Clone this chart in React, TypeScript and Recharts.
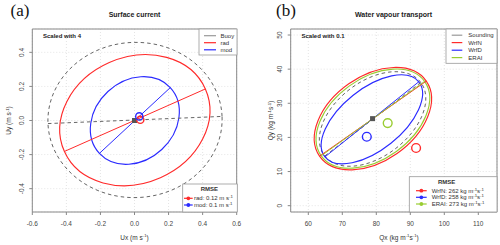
import React from "react";
import {
  ComposedChart,
  Line,
  Scatter,
  XAxis,
  YAxis,
  CartesianGrid,
  ReferenceArea,
} from "recharts";

// ---- (a) surface current ----
const curNames = ["Buoy", "rad", "mod"];
// ellipse centre
const curCx = [0.003, 0.002, 0.002];
const curCy = [0.003, 0.002, 0.0];
// principal axis line (start / end), the end is also the major semi-axis tip
const curX0 = [-0.508, -0.41, -0.206];
const curY0 = [-0.018, -0.181, -0.193];
const curX1 = [0.514, 0.416, 0.21];
const curY1 = [0.024, 0.185, 0.193];
// tip of the minor semi-axis
const curMinX = [-0.016, -0.148, -0.156];
const curMinY = [0.458, 0.34, 0.17];
// mean vectors
const curMeanName = ["Buoy", "rad", "mod"];
const curMeanX = [0.0, 0.034, 0.028];
const curMeanY = [0.0, 0.004, 0.024];
const curRmseName = ["rad", "mod"];
const curRmse = ["0.12", "0.1"];
const curXTicks = [-0.6, -0.4, -0.2, 0, 0.2, 0.4, 0.6];
const curYTicks = [-0.4, -0.2, 0, 0.2, 0.4];

// ---- (b) water vapour transport ----
const wvNames = ["Sounding", "WrfN", "WrfD", "ERAI"];
const wvCx = [78.9, 79.0, 78.7, 79.0];
const wvCy = [25.4, 25.5, 25.3, 25.5];
const wvX0 = [64.9, 63.3, 64.9, 63.8];
const wvY0 = [14.6, 14.5, 14.3, 14.6];
const wvX1 = [93.1, 94.7, 92.5, 94.2];
const wvY1 = [36.1, 36.5, 36.3, 36.4];
const wvMinX = [72.3, 71.9, 73.1, 72.1];
const wvMinY = [34.2, 35.7, 32.3, 35.1];
const wvMeanName = ["Sounding", "WrfN", "WrfD", "ERAI"];
const wvMeanX = [78.9, 91.7, 77.2, 83.35];
const wvMeanY = [25.5, 16.9, 20.2, 24.2];
const wvRmseName = ["WrfN", "WrfD", "ERAI"];
const wvRmse = ["262", "258", "273"];
const wvXTicks = [60, 70, 80, 90, 100, 110];
const wvYTicks = [0, 10, 20, 30, 40, 50];

const colors: Record<string, string> = {
  Buoy: "#666666",
  Sounding: "#666666",
  rad: "#ff2b2b",
  WrfN: "#ff2b2b",
  mod: "#2b2bff",
  WrfD: "#2b2bff",
  ERAI: "#9acd32",
};
const isRef = (n: string) => n === "Buoy" || n === "Sounding";
const FONT = "'Liberation Sans', Arial, sans-serif";

// curve factory: gets [centre, major tip, minor tip] in pixels and draws the ellipse
const K = 0.5523;
function ellipseCurve(ctx: any) {
  let pts: number[][] = [];
  return {
    areaStart() {},
    areaEnd() {},
    lineStart() {
      pts = [];
    },
    point(x: number, y: number) {
      pts.push([x, y]);
    },
    lineEnd() {
      if (pts.length < 3) return;
      const [c, m, n] = pts;
      const P = (a: number, b: number) => [
        c[0] + a * (m[0] - c[0]) + b * (n[0] - c[0]),
        c[1] + a * (m[1] - c[1]) + b * (n[1] - c[1]),
      ];
      const q = [[1, 0], [0, 1], [-1, 0], [0, -1], [1, 0]];
      const s = P(1, 0);
      ctx.moveTo(s[0], s[1]);
      for (let i = 0; i < 4; i++) {
        const [a0, b0] = q[i];
        const [a1, b1] = q[i + 1];
        const c1 = P(a0 + K * a1, b0 + K * b1);
        const c2 = P(a1 + K * a0, b1 + K * b0);
        const e = P(a1, b1);
        ctx.bezierCurveTo(c1[0], c1[1], c2[0], c2[1], e[0], e[1]);
      }
      ctx.closePath();
    },
  };
}

type Pt = { x: number; y: number };

interface PanelProps {
  yAxisWidth: number;
  marginRight: number;
  xDomain: [number, number];
  yDomain: [number, number];
  xTicks: number[];
  yTicks: number[];
  fmt: (v: number) => string;
  names: string[];
  ellipses: Pt[][];
  axes: Pt[][];
  means: { name: string; pt: Pt }[];
  ringR: number;
}

function Panel(p: PanelProps) {
  const tickStyle = { fontSize: 6.5, fill: "#444", fontFamily: FONT };
  return (
    <ComposedChart
      width={250}
      height={245}
      margin={{ top: 29, right: p.marginRight, bottom: 0, left: 0 }}
    >
      <CartesianGrid stroke="#e4e4e4" strokeDasharray="1 2" />
      <XAxis
        type="number"
        dataKey="x"
        domain={p.xDomain}
        allowDataOverflow
        ticks={p.xTicks}
        height={33}
        axisLine={false}
        tickSize={3}
        tickMargin={2}
        tickLine={{ stroke: "#888" }}
        tick={(t: any) => (
          <text x={t.x} y={t.y + 6} textAnchor="middle" dominantBaseline="central" {...tickStyle}>
            {p.fmt(t.payload.value)}
          </text>
        )}
      />
      <YAxis
        type="number"
        dataKey="y"
        domain={p.yDomain}
        allowDataOverflow
        ticks={p.yTicks}
        width={p.yAxisWidth}
        axisLine={false}
        tickSize={3}
        tickMargin={2}
        tickLine={{ stroke: "#888" }}
        tick={(t: any) => (
          <text
            x={t.x - 6}
            y={t.y}
            transform={`rotate(-90 ${t.x - 6} ${t.y})`}
            textAnchor="middle"
            dominantBaseline="central"
            {...tickStyle}
          >
            {p.fmt(t.payload.value)}
          </text>
        )}
      />
      <ReferenceArea
        x1={p.xDomain[0]}
        x2={p.xDomain[1]}
        y1={p.yDomain[0]}
        y2={p.yDomain[1]}
        fill="none"
        stroke="#888"
        strokeWidth={1}
        ifOverflow="visible"
      />
      {p.names.map((n, i) => (
        <Line
          key={"e" + n}
          data={p.ellipses[i]}
          dataKey="y"
          type={ellipseCurve as any}
          stroke={colors[n]}
          strokeWidth={isRef(n) ? 1 : 1.15}
          strokeDasharray={isRef(n) ? "3.5 3" : undefined}
          dot={false}
          activeDot={false}
          isAnimationActive={false}
        />
      ))}
      {p.names.map((n, i) => (
        <Line
          key={"a" + n}
          data={p.axes[i]}
          dataKey="y"
          type="linear"
          stroke={colors[n]}
          strokeWidth={1}
          strokeDasharray={isRef(n) ? "3.5 3" : undefined}
          dot={false}
          activeDot={false}
          isAnimationActive={false}
        />
      ))}
      {p.means.map((m) => (
        <Scatter
          key={"m" + m.name}
          data={[m.pt]}
          dataKey="y"
          isAnimationActive={false}
          shape={(s: any) =>
            isRef(m.name) ? (
              <rect x={s.cx - 2.5} y={s.cy - 2.5} width={5} height={5} fill="#555" />
            ) : (
              <circle cx={s.cx} cy={s.cy} r={p.ringR} fill="none" stroke={colors[m.name]} strokeWidth={1.4} />
            )
          }
        />
      ))}
    </ComposedChart>
  );
}

const sup = (s: string) => (
  <tspan dy={-2.2} fontSize={4.3}>
    {s}
  </tspan>
);

function Unit({ kg }: { kg: boolean }) {
  // tspans for "(m s^-1)" or "(kg m^-1 s^-1)" with baseline reset
  return kg ? (
    <>
      {" (kg m"}
      {sup("-1")}
      <tspan dy={2.2}>s</tspan>
      {sup("-1")}
      <tspan dy={2.2}>)</tspan>
    </>
  ) : (
    <>
      {" (m s"}
      {sup("-1")}
      <tspan dy={2.2}>)</tspan>
    </>
  );
}

interface LegendRow {
  name: string;
  label: React.ReactNode;
}

function LegendBox({
  x, y, w, h, rows, rowY, lineX0, lineX1, textX, title, titleX, titleY, dots,
}: {
  x: number; y: number; w: number; h: number; rows: LegendRow[]; rowY: number[];
  lineX0: number; lineX1: number; textX: number; title?: string; titleX?: number; titleY?: number; dots?: boolean;
}) {
  return (
    <g>
      <rect x={x} y={y} width={w} height={h} fill="#fff" stroke="#999" strokeWidth={0.8} />
      {title && (
        <text x={titleX} y={titleY} textAnchor="middle" fontWeight="bold" fontSize={6} fill="#333">
          {title}
        </text>
      )}
      {rows.map((r, i) => (
        <g key={r.name}>
          <line
            x1={lineX0}
            x2={lineX1}
            y1={rowY[i]}
            y2={rowY[i]}
            stroke={isRef(r.name) && !dots ? "#999" : colors[r.name]}
            strokeWidth={1.2}
          />
          {dots && <circle cx={(lineX0 + lineX1) / 2} cy={rowY[i]} r={1.9} fill={colors[r.name]} />}
          <text x={textX} y={rowY[i] + 2.1} fontSize={6} fill="#333">
            {r.label}
          </text>
        </g>
      ))}
    </g>
  );
}

export default function App() {
  const curEll = curNames.map((_, i) => [
    { x: curCx[i], y: curCy[i] },
    { x: curX1[i], y: curY1[i] },
    { x: curMinX[i], y: curMinY[i] },
  ]);
  const curAx = curNames.map((_, i) => [
    { x: curX0[i], y: curY0[i] },
    { x: curX1[i], y: curY1[i] },
  ]);
  const curMeans = curMeanName.map((n, i) => ({ name: n, pt: { x: curMeanX[i], y: curMeanY[i] } }));

  const wvEll = wvNames.map((_, i) => [
    { x: wvCx[i], y: wvCy[i] },
    { x: wvX1[i], y: wvY1[i] },
    { x: wvMinX[i], y: wvMinY[i] },
  ]);
  const wvAx = wvNames.map((_, i) => [
    { x: wvX0[i], y: wvY0[i] },
    { x: wvX1[i], y: wvY1[i] },
  ]);
  const wvMeans = wvMeanName.map((n, i) => ({ name: n, pt: { x: wvMeanX[i], y: wvMeanY[i] } }));

  return (
    <div
      style={{
        position: "absolute",
        left: 0,
        top: 0,
        width: 500,
        height: 245,
        background: "#fff",
        fontFamily: FONT,
        overflow: "hidden",
      }}
    >
      <div style={{ position: "absolute", left: 0, top: 0 }}>
        <Panel
          yAxisWidth={32.3}
          marginRight={13.3}
          xDomain={[-0.6, 0.6]}
          yDomain={[-0.537, 0.537]}
          xTicks={curXTicks}
          yTicks={curYTicks}
          fmt={(v) => v.toFixed(1)}
          names={curNames}
          ellipses={curEll}
          axes={curAx}
          means={curMeans}
          ringR={3.6}
        />
      </div>
      <div style={{ position: "absolute", left: 250, top: 0 }}>
        <Panel
          yAxisWidth={40.7}
          marginRight={3}
          xDomain={[54.82, 115.5]}
          yDomain={[-1.85, 51.76]}
          xTicks={wvXTicks}
          yTicks={wvYTicks}
          fmt={(v) => String(v)}
          names={wvNames}
          ellipses={wvEll}
          axes={wvAx}
          means={wvMeans}
          ringR={4.4}
        />
      </div>
      <svg
        width={500}
        height={245}
        style={{ position: "absolute", left: 0, top: 0, pointerEvents: "none" }}
        fontFamily={FONT}
      >
        <text x={10.5} y={16} fontFamily="'Liberation Serif', 'Times New Roman', serif" fontSize={17} fill="#111">
          (a)
        </text>
        <text x={276} y={16} fontFamily="'Liberation Serif', 'Times New Roman', serif" fontSize={17} fill="#111">
          (b)
        </text>
        <text x={134.5} y={17.2} textAnchor="middle" fontWeight="bold" fontSize={7} fill="#222">
          Surface current
        </text>
        <text x={393.5} y={17.2} textAnchor="middle" fontWeight="bold" fontSize={7} fill="#222">
          Water vapour transport
        </text>
        <text x={43} y={38} fontWeight="bold" fontSize={6} fill="#222">
          Scaled with 4
        </text>
        <text x={301.5} y={38} fontWeight="bold" fontSize={6} fill="#222">
          Scaled with 0.1
        </text>

        <text x={134.5} y={239.5} textAnchor="middle" fontSize={6.5} fill="#333">
          Ux<Unit kg={false} />
        </text>
        <text x={399} y={239.5} textAnchor="middle" fontSize={6.5} fill="#333">
          Qx<Unit kg={true} />
        </text>
        <text x={11} y={120.5} transform="rotate(-90 11 120.5)" textAnchor="middle" fontSize={6.5} fill="#333">
          Uy<Unit kg={false} />
        </text>
        <text x={273} y={120.5} transform="rotate(-90 273 120.5)" textAnchor="middle" fontSize={6.5} fill="#333">
          Qy<Unit kg={true} />
        </text>

        <LegendBox
          x={199}
          y={29}
          w={38}
          h={26}
          rows={curNames.map((n) => ({ name: n, label: n }))}
          rowY={[35.7, 42.7, 49.8]}
          lineX0={204}
          lineX1={216}
          textX={220.5}
        />
        <LegendBox
          x={446}
          y={29}
          w={51}
          h={34.3}
          rows={wvNames.map((n) => ({ name: n, label: n }))}
          rowY={[35.2, 42.6, 50.2, 57.6]}
          lineX0={451.7}
          lineX1={462.3}
          textX={468.3}
        />
        <LegendBox
          x={182.7}
          y={184}
          w={54.6}
          h={28}
          title="RMSE"
          titleX={209.3}
          titleY={191.2}
          dots
          rows={curRmseName.map((n, i) => ({
            name: n,
            label: (
              <>
                {`${n}: ${curRmse[i]} m s`}
                {sup("-1")}
              </>
            ),
          }))}
          rowY={[198.3, 205]}
          lineX0={184}
          lineX1={192.7}
          textX={194}
        />
        <LegendBox
          x={409.3}
          y={176.7}
          w={87.7}
          h={35.3}
          title="RMSE"
          titleX={446.7}
          titleY={183.5}
          dots
          rows={wvRmseName.map((n, i) => ({
            name: n,
            label: (
              <>
                {`${n}: ${wvRmse[i]} kg m`}
                {sup("-1")}
                <tspan dy={2.2}>s</tspan>
                {sup("-1")}
              </>
            ),
          }))}
          rowY={[190.7, 197.3, 204]}
          lineX0={416}
          lineX1={426.7}
          textX={431.7}
        />
      </svg>
    </div>
  );
}
